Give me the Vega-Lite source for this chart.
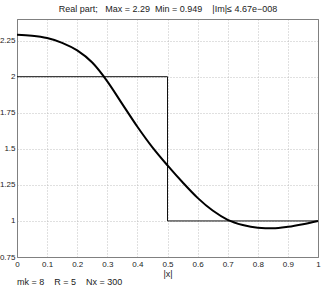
{
  "$schema": "https://vega.github.io/schema/vega-lite/v6.json",
  "width": 301,
  "height": 238,
  "autosize": {"type": "none"},
  "padding": {"left": 17, "top": 19, "right": 5, "bottom": 32},
  "background": "white",
  "config": {
    "font": "Liberation Sans",
    "view": {"stroke": "#808080", "strokeWidth": 1},
    "axis": {
      "labelFont": "Liberation Sans",
      "labelFontSize": 8,
      "labelColor": "#222222",
      "titleFont": "Liberation Sans",
      "titleFontSize": 9,
      "titleFontWeight": "normal",
      "titleColor": "#222222",
      "domainColor": "#808080",
      "tickColor": "#808080",
      "gridColor": "#b0b0b0",
      "gridDash": [1, 2],
      "gridWidth": 0.8
    }
  },
  "title": {
    "text": "mk = 8\u00a0\u00a0\u00a0\u00a0R = 5\u00a0\u00a0\u00a0\u00a0Nx = 300",
    "orient": "bottom",
    "anchor": "start",
    "frame": "group",
    "fontSize": 9,
    "fontWeight": "normal",
    "font": "Liberation Sans",
    "color": "#222222",
    "offset": 0
  },
  "datasets": {
    "curve": [
      {"x": 0.0, "y": 2.290},
      {"x": 0.05, "y": 2.284},
      {"x": 0.1, "y": 2.268},
      {"x": 0.15, "y": 2.235},
      {"x": 0.2, "y": 2.182},
      {"x": 0.25, "y": 2.098},
      {"x": 0.3, "y": 1.968},
      {"x": 0.35, "y": 1.810},
      {"x": 0.4, "y": 1.653},
      {"x": 0.45, "y": 1.510},
      {"x": 0.5, "y": 1.385},
      {"x": 0.55, "y": 1.268},
      {"x": 0.6, "y": 1.160},
      {"x": 0.65, "y": 1.072},
      {"x": 0.7, "y": 1.008},
      {"x": 0.75, "y": 0.972},
      {"x": 0.8, "y": 0.953},
      {"x": 0.85, "y": 0.949},
      {"x": 0.9, "y": 0.959},
      {"x": 0.95, "y": 0.977},
      {"x": 1.0, "y": 1.0}
    ],
    "step": [
      {"i": 0, "x": 0.0, "y": 2.0},
      {"i": 1, "x": 0.5, "y": 2.0},
      {"i": 2, "x": 0.5, "y": 1.0},
      {"i": 3, "x": 1.0, "y": 1.0}
    ]
  },
  "resolve": {"axis": {"x": "independent", "y": "independent"}},
  "layer": [
    {
      "data": {"name": "step"},
      "mark": {"type": "line", "color": "#111111", "strokeWidth": 1},
      "encoding": {
        "order": {"field": "i", "type": "quantitative"},
        "x": {
          "field": "x", "type": "quantitative",
          "scale": {"domain": [0, 1], "nice": false},
          "axis": {
            "title": "|x|",
            "values": [0, 0.1, 0.2, 0.3, 0.4, 0.5, 0.6, 0.7, 0.8, 0.9, 1],
            "format": ".1~f",
            "tickSize": 0,
            "labelPadding": 3,
            "titlePadding": 1,
            "grid": true,
            "labelFlush": false
          }
        },
        "y": {
          "field": "y", "type": "quantitative",
          "scale": {"domain": [0.75, 2.4], "nice": false, "zero": false},
          "axis": {
            "title": null,
            "values": [0.75, 1, 1.25, 1.5, 1.75, 2, 2.25],
            "format": ".2~f",
            "tickSize": 0,
            "labelPadding": 2,
            "grid": true,
            "labelFlush": false
          }
        }
      }
    },
    {
      "data": {"name": "curve"},
      "mark": {"type": "line", "color": "#000000", "strokeWidth": 2, "interpolate": "monotone"},
      "encoding": {
        "x": {
          "field": "x", "type": "quantitative",
          "axis": {
            "orient": "top",
            "title": "Real part;\u00a0\u00a0\u00a0Max = 2.29\u00a0\u00a0Min = 0.949\u00a0\u00a0\u00a0\u00a0|Im|≤ 4.67e−008",
            "labels": false,
            "ticks": false,
            "grid": false,
            "titlePadding": 6
          }
        },
        "y": {
          "field": "y", "type": "quantitative",
          "axis": {"orient": "right", "title": null, "labels": false, "ticks": false, "grid": false}
        }
      }
    }
  ]
}
